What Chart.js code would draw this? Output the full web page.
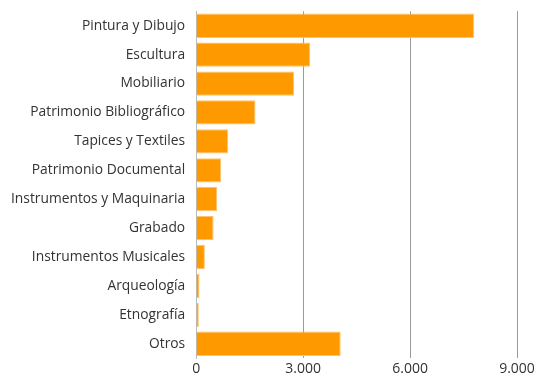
<!DOCTYPE html>
<html lang="es">
<head>
<meta charset="UTF-8">
<title>Bienes por categoría</title>
<script src="https://cdn.jsdelivr.net/npm/chart.js"></script>
<style>
    body { margin: 0; background: #fff; }
    .wrap { width: 539px; height: 376px; }
</style>
</head>
<body>
<div class="wrap"><canvas id="chart"></canvas></div>
<script>
    // datos
    const categories = ['Pintura y Dibujo', 'Escultura', 'Mobiliario', 'Patrimonio Bibliográfico',
        'Tapices y Textiles', 'Patrimonio Documental', 'Instrumentos y Maquinaria', 'Grabado',
        'Instrumentos Musicales', 'Arqueología', 'Etnografía', 'Otros'];
    const values = [7800, 3200, 2750, 1665, 900, 700, 585, 490, 245, 95, 75, 4055];
    const xTicks = [0, 3000, 6000, 9000];

    new Chart(document.getElementById('chart'), {
        type: 'bar',
        data: {
            labels: categories,
            datasets: [{
                data: values,
                backgroundColor: '#ff9900',
                borderColor: '#ffc26a',
                borderWidth: 1,
                barPercentage: 0.84,
                categoryPercentage: 1
            }]
        },
        options: {
            indexAxis: 'y',
            responsive: true,
            maintainAspectRatio: false,
            animation: false,
            layout: { padding: { top: 3, right: 22, left: 8, bottom: -3 } },
            plugins: { legend: { display: false }, tooltip: { enabled: false } },
            scales: {
                x: {
                    min: 0,
                    max: 9000,
                    afterBuildTicks: axis => { axis.ticks = xTicks.map(v => ({ value: v })); },
                    grid: { color: '#9a9a9a', drawTicks: false },
                    border: { display: false },
                    ticks: {
                        padding: 2,
                        color: '#333',
                        font: { family: 'Open Sans', size: 14 },
                        callback: v => v.toLocaleString('de-DE')
                    }
                },
                y: {
                    grid: { display: false },
                    border: { color: '#bbb' },
                    ticks: {
                        padding: 3,
                        color: '#333',
                        font: { family: 'Open Sans', size: 13.8 }
                    }
                }
            }
        }
    });
</script>
</body>
</html>
